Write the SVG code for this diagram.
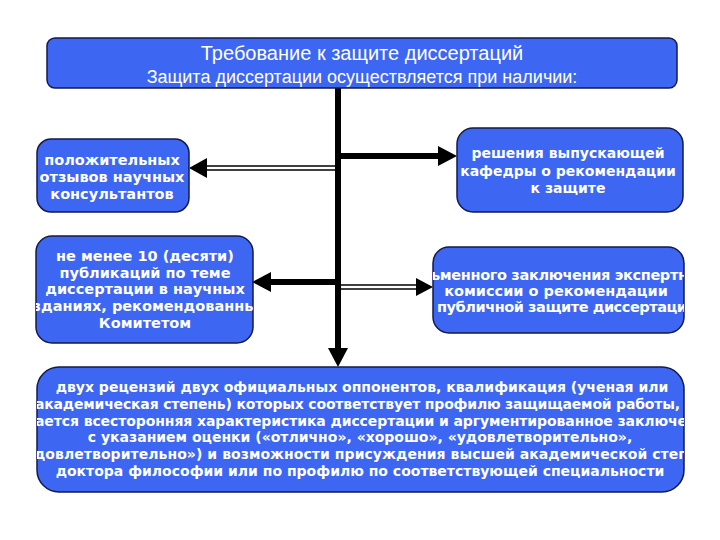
<svg xmlns="http://www.w3.org/2000/svg" width="720" height="540" viewBox="0 0 720 540">
  <style>
    .box { fill: #3d66f2; stroke: #141a4a; stroke-width: 1.5; }
    .t { font-family: "DejaVu Sans", Verdana, sans-serif; font-weight: bold; font-size: 14.5px; fill: #ffffff; text-anchor: middle; }
    .s { font-size: 14px; }
    .st { text-anchor: start; }
    .h1 { font-family: "Liberation Sans", Arial, sans-serif; font-size: 20px; fill: #ffffff; text-anchor: middle; }
    .h2 { font-family: "Liberation Sans", Arial, sans-serif; font-size: 18px; fill: #ffffff; text-anchor: middle; }
    .thick { stroke: #000; stroke-width: 6; fill: none; }
    .thin { stroke: #000; stroke-width: 1.5; fill: none; }
    .head { fill: #000; }
  </style>
  <defs>
    <clipPath id="cL2"><rect x="36" y="236" width="217" height="107" rx="16"/></clipPath>
    <clipPath id="cR2"><rect x="433" y="247" width="251" height="86" rx="16"/></clipPath>
    <clipPath id="cB"><rect x="37" y="367" width="647" height="125" rx="22"/></clipPath>
  </defs>
  <rect width="720" height="540" fill="#ffffff"/>

  <g id="connectors">
    <line class="thick" x1="338" y1="88" x2="338" y2="349"/>
    <polygon class="head" points="328,348 348,348 338,367"/>
    <line class="thick" x1="338" y1="156" x2="440" y2="156"/>
    <polygon class="head" points="438,146 438,166 457,156"/>
    <line class="thin" x1="205" y1="166" x2="335" y2="166"/>
    <line class="thin" x1="205" y1="170" x2="335" y2="170"/>
    <polygon class="head" points="207,158 207,178 189,168"/>
    <line class="thick" x1="268" y1="282" x2="338" y2="282"/>
    <polygon class="head" points="271,272 271,292 252,282"/>
    <line class="thin" x1="341" y1="285" x2="418" y2="285"/>
    <line class="thin" x1="341" y1="289" x2="418" y2="289"/>
    <polygon class="head" points="416,278 416,296 433,287"/>
  </g>

  <g id="top">
    <rect class="box" x="47" y="38" width="630" height="50" rx="8"/>
    <text class="h1" x="362" y="60">Требование к защите диссертаций</text>
    <text class="h2" x="362" y="83">Защита диссертации осуществляется при наличии:</text>
  </g>

  <g id="left1">
    <rect class="box" x="37" y="139" width="152" height="73" rx="14"/>
    <text class="t" x="112" y="165">положительных</text>
    <text class="t" x="112" y="182">отзывов научных</text>
    <text class="t" x="112" y="199">консультантов</text>
  </g>

  <g id="right1">
    <rect class="box" x="457" y="128" width="226" height="84" rx="16"/>
    <text class="t s" x="568" y="158">решения выпускающей</text>
    <text class="t s" x="568" y="176">кафедры о рекомендации</text>
    <text class="t s" x="568" y="193">к защите</text>
  </g>

  <g id="left2">
    <rect class="box" x="36" y="236" width="217" height="107" rx="16"/>
    <g clip-path="url(#cL2)">
      <text class="t" x="145" y="261">не менее 10 (десяти)</text>
      <text class="t" x="145" y="278">публикаций по теме</text>
      <text class="t" x="145" y="294">диссертации в научных</text>
      <text class="t" x="145" y="311">зданиях, рекомендованны</text>
      <text class="t" x="145" y="328">Комитетом</text>
    </g>
  </g>

  <g id="right2">
    <rect class="box" x="433" y="247" width="251" height="86" rx="16"/>
    <g clip-path="url(#cR2)">
      <text class="t st" x="431" y="280" textLength="257" lengthAdjust="spacing">ьменного заключения экспертн</text>
      <text class="t" x="556" y="296">комиссии о рекомендации</text>
      <text class="t st" x="437" y="312" textLength="250" lengthAdjust="spacing">публичной защите диссертаци</text>
    </g>
  </g>

  <g id="bottom">
    <rect class="box" x="37" y="367" width="647" height="125" rx="22"/>
    <g clip-path="url(#cB)">
      <text class="t s" x="362" y="392">двух рецензий двух официальных оппонентов, квалификация (ученая или</text>
      <text class="t s st" x="35" y="409" textLength="645" lengthAdjust="spacing">академическая степень) которых соответствует профилю защищаемой работы,</text>
      <text class="t s st" x="35" y="426" textLength="652" lengthAdjust="spacing">ается всесторонняя характеристика диссертации и аргументированное заключе</text>
      <text class="t s" x="360" y="442">с указанием оценки («отлично», «хорошо», «удовлетворительно»,</text>
      <text class="t s st" x="34" y="459" textLength="654" lengthAdjust="spacing">довлетворительно») и возможности присуждения высшей  академической степ</text>
      <text class="t s" x="360" y="476">доктора философии или по профилю по соответствующей специальности</text>
    </g>
  </g>
</svg>
